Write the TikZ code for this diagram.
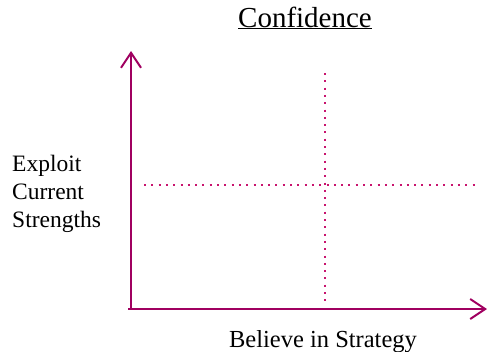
\documentclass[tikz,border=0pt]{standalone}
\usepackage{fontspec}
\setmainfont{Liberation Serif}
\usetikzlibrary{arrows.meta,positioning}

\definecolor{axiscol}{RGB}{160,0,96}
\definecolor{gridcol}{RGB}{200,20,110}

\begin{document}
\begin{tikzpicture}[x=1pt,y=-1pt,
	axis/.style={draw=axiscol,line width=2.4pt,-{Straight Barb[length=15pt,width=20pt,line width=2pt]}},
	divider/.style={draw=gridcol,line width=2pt,dash pattern=on 2pt off 5.3pt},
	lbl/.style={inner sep=0pt,font=\fontsize{23.5}{28}\selectfont}]
	\useasboundingbox (0,0) rectangle (487,351);
	% axes
	\coordinate (O)    at (131,309);
	\coordinate (ytip) at (131,51);
	\coordinate (xtip) at (487,309);
	\draw[axis] (O) -- (ytip);
	\draw[axis] ([xshift=-3pt]O) -- (xtip);
	% quadrant dividers
	\coordinate (vtop) at (325,73);
	\coordinate (vbot) at (325,305);
	\coordinate (hl)   at (144,185);
	\coordinate (hr)   at (478,185);
	\path[divider] (vtop) -- (vbot);
	\path[divider] (hl) -- (hr);
	% labels
	\node[lbl,font=\fontsize{29}{34}\selectfont,anchor=base] (title) at (305,27) {\underline{Confidence}};
	\node[lbl,font=\fontsize{24.5}{28}\selectfont,anchor=base] (xlbl) at (323,347) {Believe in Strategy};
	\node[lbl,align=left,anchor=north west] (ylbl) at (12,155) {Exploit\\Current\\Strengths};
\end{tikzpicture}
\end{document}
